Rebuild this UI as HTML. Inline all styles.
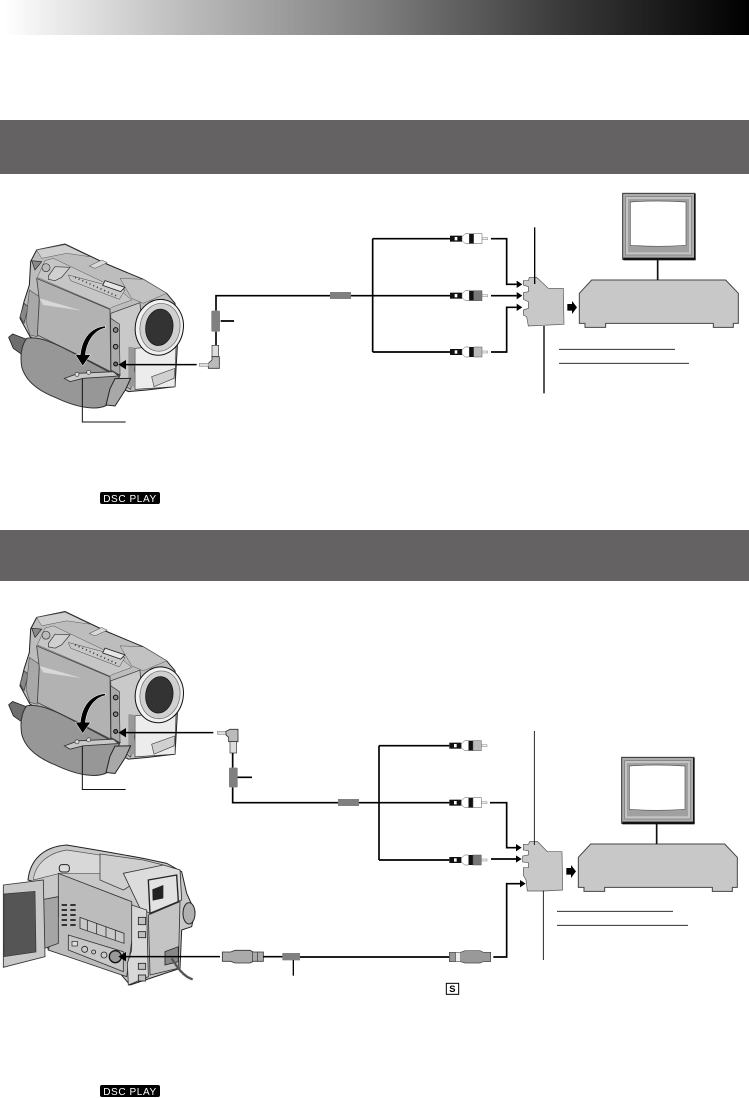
<!DOCTYPE html>
<html><head><meta charset="utf-8"><style>
html,body{margin:0;padding:0;background:#fff;width:749px;height:1098px;overflow:hidden}
svg{display:block}
text{font-family:"Liberation Sans",sans-serif}
</style></head><body>
<svg width="749" height="1098" viewBox="0 0 749 1098" xmlns="http://www.w3.org/2000/svg">
<defs>
<linearGradient id="hg" x1="0" x2="1" y1="0" y2="0"><stop offset="0.005" stop-color="#fff"/><stop offset="0.06" stop-color="#efefef"/><stop offset="0.25" stop-color="#bbb"/><stop offset="0.5" stop-color="#7f7f7f"/><stop offset="0.75" stop-color="#3a3a3a"/><stop offset="1" stop-color="#000"/></linearGradient>

<g id="cam">
<path d="M26 442 L38 432 L85 450 L75 500 L40 475 Z" fill="#6e6e6e" stroke="#222" stroke-width="2.5"/>
<path d="M92 214 L110 180 L195 162 L320 222 L430 268 L500 310 L525 340 L532 470 L525 590 L440 600 L385 605 L300 560 L90 440 L60 385 L72 335 L88 285 Z" fill="#bdbdbd" stroke="#222" stroke-width="3"/>
<path d="M72 340 L60 380 L72 400 L85 350 Z" fill="#888" stroke="#333" stroke-width="2"/>
<path d="M88 300 L118 320 L112 440 L90 435 L78 395 Z" fill="#a8a8a8" stroke="#555" stroke-width="2"/>
<path d="M110 265 L330 358 L332 545 L225 490 L112 435 L118 330 Z" fill="#b2b2b2" stroke="#444" stroke-width="2.5"/>
<path d="M118 325 L245 362 L130 345 Z" fill="#d8d8d8"/>
<path d="M112 262 L135 212 L160 205 L360 300 L395 330 L335 352 L330 356 Z" fill="#c6c6c6" stroke="#555" stroke-width="1.5"/>
<path d="M205 255 L375 300 L358 328 L212 272 Z" fill="#c8c8c8" stroke="#444" stroke-width="1.5"/>
<path d="M225 262 L350 318" stroke="#333" stroke-width="5" stroke-dasharray="3 9" fill="none"/>
<path d="M315 272 L375 292 L362 305 L308 286 Z" fill="#e6e6e6" stroke="#222" stroke-width="2.5"/>
<path d="M145 258 L165 230 L210 232 L185 262 L165 272 L145 268 Z" fill="#d0d0d0" stroke="#333" stroke-width="2"/>
<ellipse cx="138" cy="233" rx="12" ry="12" fill="#bbb" stroke="#333" stroke-width="2"/>
<path d="M95 212 L125 215 L105 240 Z" fill="#888" stroke="#222" stroke-width="2"/>
<path d="M110 180 L195 164 L270 200 L200 190 L125 205 Z" fill="#cfcfcf" stroke="#555" stroke-width="1.5"/>
<path d="M268 228 L305 210 L322 218 L285 235 Z" fill="#d8d8d8" stroke="#444" stroke-width="1.5"/>
<path d="M360 265 L430 268 L500 310 L430 340 L395 325 Z" fill="#c2c2c2" stroke="#555" stroke-width="1.5"/>
<path d="M332 370 L420 338 L430 480 L410 500 L392 598 L335 560 Z" fill="#c9c9c9" stroke="#444" stroke-width="2.5"/>
<path d="M332 385 L358 402 L360 555 L333 540 Z" fill="#ababab" stroke="#333" stroke-width="2"/>
<circle cx="347" cy="420" r="7" fill="#888" stroke="#111" stroke-width="3"/>
<circle cx="347" cy="470" r="7" fill="#888" stroke="#111" stroke-width="3"/>
<circle cx="347" cy="522" r="6" fill="#666" stroke="#111" stroke-width="3"/>
<path d="M405 475 L528 465 L525 590 L405 598 Z" fill="#ececec" stroke="#333" stroke-width="2"/>
<path d="M455 560 L525 535 L522 565 L462 590 Z" fill="#d0d0d0" stroke="#444" stroke-width="2"/>
<path d="M385 470 L403 472 L402 590 L385 590 Z" fill="#999"/>
<ellipse cx="478" cy="412" rx="72" ry="84" transform="rotate(10 478 412)" fill="#f0f0f0" stroke="#111" stroke-width="3"/>
<ellipse cx="480" cy="412" rx="60" ry="72" transform="rotate(10 480 412)" fill="#d0d0d0" stroke="#666" stroke-width="2"/>
<ellipse cx="478" cy="412" rx="41" ry="55" transform="rotate(8 478 412)" fill="#333" stroke="#111" stroke-width="2"/>
<path d="M80 445 C120 438 170 462 225 492 L335 550 L360 555 L345 590 L322 645 C290 662 235 655 165 622 C110 600 75 570 65 530 C60 495 65 465 80 445 Z" fill="#979797" stroke="#333" stroke-width="3"/>
<path d="M345 566 L392 565 L376 600 L345 648 L318 645 L330 596 Z" fill="#a8a8a8" stroke="#222" stroke-width="3"/>
<path d="M193 565 L235 550 L340 545 L355 558 L250 565 L210 575 Z" fill="#c9c9c9" stroke="#333" stroke-width="2.5"/>
<circle cx="231" cy="553" r="6" fill="#ddd" stroke="#333" stroke-width="2"/>
<circle cx="266" cy="547" r="6" fill="#ddd" stroke="#333" stroke-width="2"/>
<path d="M316 414 C284 420 262 450 256 494 L272 494 L248 528 L226 494 L241 494 C245 447 272 412 316 408 Z" fill="#000" stroke="#fff" stroke-width="1.5"/>
<path d="M247 565 V696 H377" fill="none" stroke="#111" stroke-width="3"/>
</g>

<g id="plug">
<rect x="270" y="-9" width="36" height="18" fill="#111"/>
<rect x="284" y="-5" width="8" height="10" fill="#fff"/>
<path d="M306 -6 L316 -15 H328 V15 H316 L306 6 Z" fill="#fff" stroke="#555" stroke-width="1.5"/>
<rect x="328" y="-15" width="13" height="30" fill="#111"/>
<rect x="365" y="-3" width="18" height="6" fill="#eee" stroke="#888" stroke-width="1.5"/>
</g>

<g id="vcr">
<path d="M658 310 L695 270 H1097 L1135 310 V400 H1120 V412 H1060 V400 H737 V412 H675 V400 H658 Z" fill="#c8c8c8" stroke="#444" stroke-width="3"/>
<rect x="788" y="10" width="217" height="198" fill="#ababab" stroke="#333" stroke-width="3"/>
<rect x="790" y="203" width="217" height="8" fill="#111"/>
<rect x="1002" y="12" width="5" height="196" fill="#111"/>
<rect x="797" y="20" width="198" height="175" fill="#c4c4c4" stroke="#777" stroke-width="2"/>
<rect x="804" y="27" width="183" height="160" fill="#a0a0a0"/>
<path d="M811 36 Q893 30 978 36 V166 Q893 172 811 166 Z" fill="#fff" stroke="#555" stroke-width="2"/>
<path d="M893 210 V270" stroke="#111" stroke-width="5" fill="none"/>
<path d="M622 342 H636 V333 L651 352 L636 372 V362 H622 Z" fill="#000"/>
</g>
</defs>

<rect x="0" y="0" width="749" height="35" fill="url(#hg)"/>
<rect x="0" y="120" width="749" height="54" fill="#646262"/>
<rect x="0" y="530" width="749" height="51" fill="#646262"/>

<!-- Section 1 camera -->
<g transform="translate(0,190) scale(.33333)">
<use href="#cam"/>
<path d="M590 524 H375" stroke="#000" stroke-width="4.5" fill="none"/>
<path d="M378 510 L355 524 L378 538 Z" fill="#000"/>
<path d="M780 317 H648 V362 M648 425 V465 M662 393 H702" fill="none" stroke="#000" stroke-width="5"/>
<rect x="634" y="362" width="26" height="63" rx="3" fill="#808080"/>
<rect x="636" y="466" width="20" height="34" fill="#ddd" stroke="#333" stroke-width="2"/>
<path d="M636 500 H658 V535 H625 V520 L636 510 Z" fill="#bbb" stroke="#333" stroke-width="2.5"/>
<rect x="598" y="520" width="28" height="9" fill="#ddd" stroke="#777" stroke-width="1.5"/>
</g>

<!-- Section 1 right -->
<g transform="translate(360,190) scale(.33333)">
<path d="M38 146 H270 M38 486 H270 M-300 317 H270 M38 146 V486 M393 146 H440 V283 H470 M393 317 H470 M393 486 H440 V352 H470" fill="none" stroke="#000" stroke-width="5"/>
<rect x="-90" y="306" width="63" height="21" fill="#808080"/>
<path d="M487 283 L470 272 V294 Z M487 317 L470 306 V328 Z M487 352 L470 341 V363 Z" fill="#000"/>
<g transform="translate(0,146)"><use href="#plug"/><rect x="341" y="-15" width="25" height="30" fill="#fff" stroke="#555" stroke-width="1.5"/></g>
<g transform="translate(0,317)"><use href="#plug"/><rect x="341" y="-15" width="25" height="30" fill="#777" stroke="#555" stroke-width="1.5"/></g>
<g transform="translate(0,486)"><use href="#plug"/><rect x="341" y="-15" width="25" height="30" fill="#bbb" stroke="#555" stroke-width="1.5"/></g>
<path d="M490 272 H505 L508 262 H530 L565 295 H610 L612 403 L505 408 L500 380 L490 375 V360 L505 355 V335 L490 328 V308 L505 305 V290 L490 285 Z" fill="#c8c8c8" stroke="#555" stroke-width="2"/>
<path d="M524 112 V282 M552 408 V610" stroke="#000" stroke-width="4" fill="none"/>
<use href="#vcr"/>
<path d="M597 478 H945 M597 520 H987" stroke="#111" stroke-width="2.5" fill="none"/>
</g>

<!-- Badge 1 -->
<rect x="100" y="492" width="60" height="12" rx="2" fill="#000"/>
<text x="130" y="502" text-anchor="middle" font-size="10" fill="#fff" letter-spacing=".6">DSC PLAY</text>

<!-- Section 2 camera -->
<g transform="translate(0,557.5) scale(.33333)">
<use href="#cam"/>
</g>
<g transform="translate(0,600) scale(.33333)">
<path d="M640 398 H375" stroke="#000" stroke-width="4.5" fill="none"/>
<path d="M378 384 L355 398 L378 412 Z" fill="#000"/>
<rect x="652" y="394" width="28" height="9" fill="#ddd" stroke="#777" stroke-width="1.5"/>
<path d="M678 394 L690 388 H714 V425 H686 V412 L678 405 Z" fill="#bbb" stroke="#333" stroke-width="2.5"/>
<rect x="690" y="425" width="20" height="34" fill="#ddd" stroke="#333" stroke-width="2"/>
<path d="M698 459 V503 M698 562 V608 H780 M712 532 H756" fill="none" stroke="#000" stroke-width="5"/>
<rect x="687" y="503" width="26" height="59" rx="3" fill="#808080"/>
</g>

<!-- Section 2 right -->
<g transform="translate(360,720) scale(.33333)">
<path d="M57 77 H268 M57 420 H268 M-300 248 H268 M57 77 V420 M390 248 H440 V383 H470 M393 417 H470 M400 711 H440 V491 H482 M-180 711 H268" fill="none" stroke="#000" stroke-width="5"/>
<rect x="-66" y="237" width="63" height="21" fill="#808080"/>
<path d="M485 383 L468 372 V394 Z M485 417 L468 406 V428 Z M497 491 L480 480 V502 Z" fill="#000"/>
<g transform="translate(-2,77)"><use href="#plug"/><rect x="341" y="-15" width="25" height="30" fill="#bbb" stroke="#555" stroke-width="1.5"/></g>
<g transform="translate(-2,248)"><use href="#plug"/><rect x="341" y="-15" width="25" height="30" fill="#fff" stroke="#555" stroke-width="1.5"/></g>
<g transform="translate(-2,420)"><use href="#plug"/><rect x="341" y="-15" width="25" height="30" fill="#777" stroke="#555" stroke-width="1.5"/></g>
<path d="M268 697 H302 L315 692 H360 L370 697 H392 V725 H370 L360 729 H315 L302 725 H268 Z" fill="#999" stroke="#444" stroke-width="2"/>
<rect x="287" y="697" width="15" height="28" fill="#eee" stroke="#444" stroke-width="1.5"/>
<rect x="259" y="790" width="37" height="33" fill="#fff" stroke="#000" stroke-width="3"/>
<text x="277" y="816" text-anchor="middle" font-size="28" font-weight="bold" fill="#000">S</text>
<path d="M490 373 H505 L510 364 H532 L562 395 H606 L608 510 L552 513 H502 L498 480 L490 466 V443 H505 V428 L488 426 V408 L505 405 V392 L490 390 Z" fill="#c8c8c8" stroke="#555" stroke-width="2"/>
<path d="M523 33 V375 M550 512 V720" stroke="#000" stroke-width="2.5" fill="none"/>
<g transform="translate(-3,102)"><use href="#vcr"/></g>
<path d="M591 574 H939 M591 616 H984" stroke="#111" stroke-width="2.5" fill="none"/>
</g>

<!-- Rear camcorder -->
<g transform="translate(0,830) scale(.33333)">
<path d="M84 150 C90 90 130 50 200 45 L300 62 L430 85 L500 100 L545 125 L560 190 L585 245 L575 290 L545 300 L540 415 L390 465 L360 430 L145 360 L135 320 L120 160 Z" fill="#c8c8c8" stroke="#222" stroke-width="3"/>
<path d="M100 150 C105 105 140 70 200 60 L300 75 L305 130 L180 130 Z" fill="#d8d8d8" stroke="#555" stroke-width="2"/>
<rect x="178" y="104" width="30" height="22" rx="8" fill="#ddd" stroke="#222" stroke-width="3"/>
<path d="M300 72 L430 90 L490 105 L370 180 L300 150 Z" fill="#cfcfcf" stroke="#444" stroke-width="2.5"/>
<path d="M175 130 L395 215 L400 300 L380 440 L145 360 L175 260 Z" fill="#bcbcbc" stroke="#333" stroke-width="2.5"/>
<path d="M370 130 L490 105 L540 120 L545 210 L450 250 L420 235 Z" fill="#dcdcdc" stroke="#333" stroke-width="2.5"/>
<path d="M445 150 L530 135 L535 215 L450 250 Z" fill="#e2e2e2" stroke="#222" stroke-width="4"/>
<path d="M457 178 L490 165 V205 L458 212 Z" fill="#222"/>
<path d="M185 225 H228 M185 240 H228 M185 255 H228 M185 270 H228 M185 285 H228" stroke="#333" stroke-width="6" stroke-dasharray="16 10" fill="none"/>
<path d="M240 262 L372 310 V340 L240 295 Z" fill="#cacaca" stroke="#333" stroke-width="2.5"/>
<path d="M262 270 V302 M290 280 V312 M318 290 V322 M346 300 V332" stroke="#333" stroke-width="2.5" fill="none"/>
<path d="M205 315 L370 365 V425 L205 360 Z" fill="#c8c8c8" stroke="#333" stroke-width="2.5"/>
<rect x="216" y="334" width="16" height="14" fill="#ddd" stroke="#222" stroke-width="2"/>
<circle cx="254" cy="358" r="9" fill="#ccc" stroke="#222" stroke-width="2.5"/>
<circle cx="281" cy="366" r="6" fill="#ccc" stroke="#222" stroke-width="2.5"/>
<circle cx="312" cy="375" r="9" fill="#ccc" stroke="#222" stroke-width="2.5"/>
<circle cx="346" cy="380" r="18" fill="#999" stroke="#111" stroke-width="4"/>
<path d="M395 225 L440 240 L445 440 L385 465 L382 400 L395 360 Z" fill="#d8d8d8" stroke="#333" stroke-width="2.5"/>
<rect x="415" y="262" width="22" height="22" fill="#c0c0c0" stroke="#222" stroke-width="2.5"/>
<rect x="415" y="305" width="22" height="18" fill="#c0c0c0" stroke="#222" stroke-width="2.5"/>
<rect x="415" y="400" width="22" height="18" fill="#c0c0c0" stroke="#222" stroke-width="2.5"/>
<rect x="415" y="435" width="22" height="18" fill="#c0c0c0" stroke="#222" stroke-width="2.5"/>
<path d="M445 255 L540 215 L535 415 L450 435 Z" fill="#c4c4c4" stroke="#333" stroke-width="2.5"/>
<path d="M495 365 L535 350 V395 L495 405 Z" fill="#888" stroke="#222" stroke-width="2.5"/>
<path d="M515 385 C530 410 550 440 578 448" fill="none" stroke="#555" stroke-width="7"/>
<ellipse cx="567" cy="250" rx="18" ry="32" fill="#b0b0b0" stroke="#222" stroke-width="3"/>
<path d="M120 210 L175 200 V340 L120 360 Z" fill="#a5a5a5" stroke="#333" stroke-width="2.5"/>
<path d="M10 165 L130 150 L135 380 L10 412 Z" fill="#c8c8c8" stroke="#333" stroke-width="2.5"/>
<path d="M12 192 L105 184 L108 366 L12 380 Z" fill="#555" stroke="#333" stroke-width="2"/>
<path d="M660 380 H375" stroke="#000" stroke-width="4.5" fill="none"/>
<path d="M378 366 L355 380 L378 394 Z" fill="#000"/>
<path d="M667 366 H692 L705 361 H750 L760 366 H790 V394 H760 L750 399 H705 L692 394 H667 Z" fill="#aaa" stroke="#333" stroke-width="2.5"/>
<path d="M758 366 V394 M772 366 V394" stroke="#333" stroke-width="2"/>
<path d="M790 380 H850" stroke="#000" stroke-width="5" fill="none"/>
<rect x="847" y="369" width="53" height="22" fill="#808080"/>
<path d="M880 390 V437" stroke="#000" stroke-width="4" fill="none"/>
</g>

<!-- Badge 2 -->
<rect x="100" y="1085" width="60" height="12" rx="2" fill="#000"/>
<text x="130" y="1095" text-anchor="middle" font-size="10" fill="#fff" letter-spacing=".6">DSC PLAY</text>
</svg>
</body></html>
